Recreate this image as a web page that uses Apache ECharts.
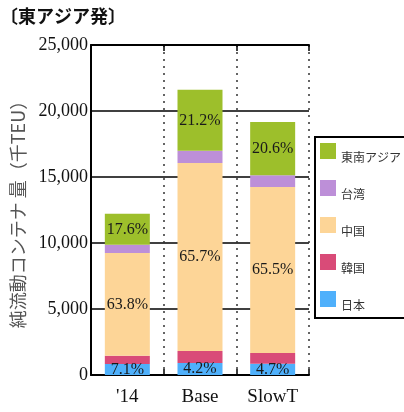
<!DOCTYPE html>
<html>
<head>
<meta charset="utf-8">
<script src="https://cdn.jsdelivr.net/npm/echarts@6/dist/echarts.min.js"></script>
<style>
  html, body { margin: 0; padding: 0; background: #fff; }
  #chart { width: 404px; height: 412px; }
</style>
</head>
<body>
<div id="chart"></div>
<script>
// Container flow out of East Asia (thousand TEU), by origin
const categories = ["'14", 'Base', 'SlowT'];
const japan  = [830, 910, 860];
const korea  = [630, 910, 810];
const china  = [7790, 14250, 12580];
const taiwan = [610, 910, 890];
const seAsia = [2350, 4630, 4020];

// Share labels printed inside the segments
const japanShare  = ['7.1%', '4.2%', '4.7%'];
const chinaShare  = ['63.8%', '65.7%', '65.5%'];
const seAsiaShare = ['17.6%', '21.2%', '20.6%'];

const yTicks = [0, 5000, 10000, 15000, 20000, 25000];

const serif = 'Liberation Serif';
const cjk = 'Noto Sans CJK JP';

function shareLabel(texts) {
  return {
    show: true,
    position: 'inside',
    fontFamily: serif,
    fontSize: 16,
    color: '#1a1a1a',
    formatter: p => texts[p.dataIndex]
  };
}

function segment(name, data, color, label) {
  return {
    name: name,
    type: 'bar',
    stack: 'total',
    data: data,
    barWidth: 45,
    itemStyle: { color: color },
    label: label || { show: false },
    emphasis: { disabled: true }
  };
}

const chart = echarts.init(document.getElementById('chart'), null, { renderer: 'canvas' });

chart.setOption({
  animation: false,
  backgroundColor: '#ffffff',
  title: {
    text: '〔東アジア発〕',
    left: 0,
    top: 7,
    padding: 0,
    textStyle: { fontFamily: cjk, fontSize: 18, fontWeight: 'bold', color: '#111' }
  },
  grid: { left: 91, right: 95, top: 45, bottom: 37 },
  legend: {
    data: ['東南アジア', '台湾', '中国', '韓国', '日本'],
    orient: 'vertical',
    left: 315,
    top: 137,
    padding: [6, 4, 7, 5],
    itemWidth: 16,
    itemHeight: 16,
    itemGap: 17,
    itemTextGap: 2,
    borderColor: '#000',
    borderWidth: 2,
    icon: 'rect',
    selectedMode: false,
    textStyle: {
      fontFamily: cjk,
      fontSize: 12,
      color: '#333',
      rich: { t: { fontFamily: cjk, fontSize: 12, color: '#333', padding: [12, 0, 0, 0] } }
    },
    formatter: n => '{t|' + n + '}'
  },
  xAxis: [
    {
      type: 'category',
      data: categories,
      position: 'bottom',
      axisLine: { show: true, lineStyle: { color: '#000', width: 2 } },
      axisTick: { show: true, inside: true, length: 6, lineStyle: { color: '#000', width: 1.5 } },
      axisLabel: { fontFamily: serif, fontSize: 19, color: '#111', margin: 13 },
      splitLine: { show: true, lineStyle: { color: '#333', type: [2, 5], width: 1.5 } }
    },
    {
      type: 'category',
      data: categories,
      position: 'top',
      axisLine: { show: true, lineStyle: { color: '#000', width: 2 } },
      axisTick: { show: true, inside: true, length: 6, lineStyle: { color: '#000', width: 1.5 } },
      axisLabel: { show: false },
      splitLine: { show: false }
    }
  ],
  yAxis: {
    type: 'value',
    min: yTicks[0],
    max: yTicks[yTicks.length - 1],
    interval: yTicks[1] - yTicks[0],
    name: '純流動コンテナ 量（千TEU）',
    nameLocation: 'middle',
    nameRotate: 90,
    nameGap: 54,
    nameTextStyle: { fontFamily: cjk, fontSize: 18, color: '#555' },
    axisLine: { show: true, lineStyle: { color: '#000', width: 2 } },
    axisTick: { show: false },
    axisLabel: {
      fontFamily: serif,
      fontSize: 18,
      color: '#111',
      margin: 3,
      formatter: v => v.toLocaleString('en-US')
    },
    splitLine: { show: true, lineStyle: { color: '#000', width: 1.5 } }
  },
  series: [
    segment('日本', japan, '#4fb0fb', shareLabel(japanShare)),
    segment('韓国', korea, '#d94b78'),
    segment('中国', china, '#fdd597', shareLabel(chinaShare)),
    segment('台湾', taiwan, '#bd8fd8'),
    segment('東南アジア', seAsia, '#9dbf2b', shareLabel(seAsiaShare))
  ]
});
</script>
</body>
</html>
